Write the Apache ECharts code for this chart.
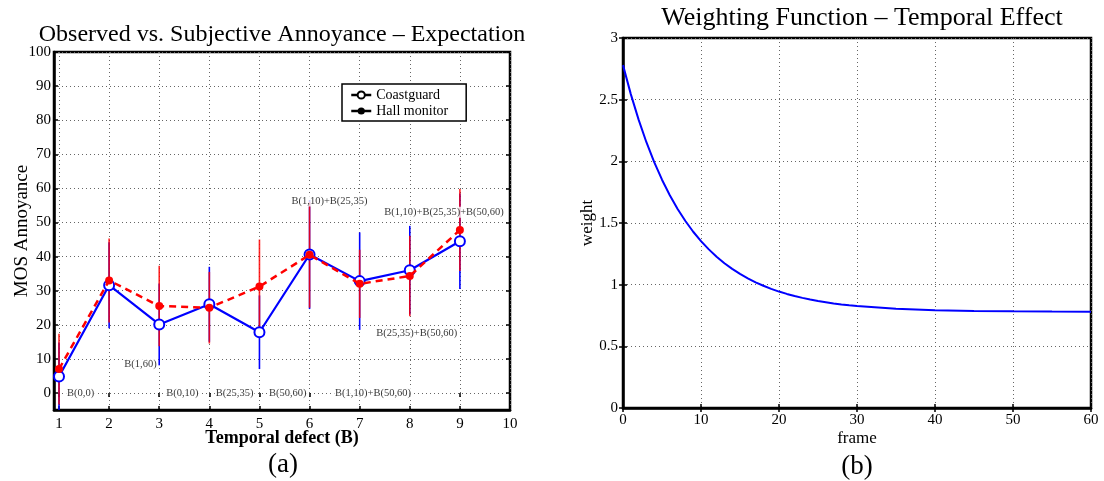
<!DOCTYPE html>
<html>
<head>
<meta charset="utf-8">
<style>
  html, body { margin: 0; padding: 0; background: #fff; }
  #chart { width: 1104px; height: 481px; }
</style>
<script src="https://cdn.jsdelivr.net/npm/echarts@6/dist/echarts.min.js"></script>
</head>
<body>
<div id="chart"></div>
<script>
// ---- Panel (a): MOS annoyance per temporal defect ----
const defects = [1, 2, 3, 4, 5, 6, 7, 8, 9];
const coastguardMean = [4.8, 31.6, 20.1, 26.0, 17.8, 40.6, 32.8, 36.0, 44.5];
const coastguardErr  = [10.0, 12.6, 12.0, 11.0, 10.8, 16.0, 14.3, 13.0, 14.0];
const hallMonitorMean = [7.0, 33.0, 25.5, 25.0, 31.2, 40.5, 32.0, 34.3, 47.8];
const hallMonitorErr  = [10.4, 12.3, 11.8, 10.5, 13.8, 15.5, 10.0, 11.8, 12.0];
const defectTicks = [1, 2, 3, 4, 5, 6, 7, 8, 9, 10];
const mosTicks = [0, 10, 20, 30, 40, 50, 60, 70, 80, 90, 100];

// defect-pattern notes: text, x, y (data units), alignment
const defectNotes = [
  ['B(0,0)', 1.14, 0, 'left'],
  ['B(1,60)', 2.97, 8.5, 'right'],
  ['B(0,10)', 3.12, 0, 'left'],
  ['B(25,35)', 4.11, 0, 'left'],
  ['B(50,60)', 5.17, 0, 'left'],
  ['B(1,10)+B(50,60)', 6.49, 0, 'left'],
  ['B(25,35)+B(50,60)', 7.31, 17.5, 'left'],
  ['B(1,10)+B(25,35)', 5.62, 56.3, 'left'],
  ['B(1,10)+B(25,35)+B(50,60)', 7.47, 53.0, 'left']
];

// ---- Panel (b): temporal weighting function ----
const frames  = [0, 1, 2, 3, 4, 5, 6, 7, 8, 9, 10, 11, 12, 13, 14, 15, 16, 17, 18, 19, 20,
                 21, 22, 23, 24, 25, 26, 27, 28, 29, 30, 35, 40, 45, 50, 55, 60];
const weights = [2.78, 2.545, 2.338, 2.155, 1.993, 1.851, 1.725, 1.614, 1.516, 1.429, 1.353,
                 1.286, 1.226, 1.174, 1.128, 1.087, 1.051, 1.019, 0.991, 0.966, 0.944,
                 0.925, 0.908, 0.893, 0.880, 0.868, 0.858, 0.848, 0.840, 0.833, 0.827,
                 0.805, 0.793, 0.787, 0.784, 0.782, 0.781];
const frameTicks = [0, 10, 20, 30, 40, 50, 60];
const weightTicks = [0, 0.5, 1, 1.5, 2, 2.5, 3];

const FONT = '"Liberation Serif", "Times New Roman", serif';
const gridLine = { show: true, lineStyle: { type: [1, 3], color: '#666', width: 1 } };
const axisLineBlack = { show: true, onZero: false, lineStyle: { color: '#000', width: 2.5 } };
const tickIn = (vals) => ({ show: true, inside: true, length: 4, lineStyle: { color: '#000', width: 1.5 }, customValues: vals });
const labelStyle = { color: '#000', fontFamily: FONT, fontSize: 15 };

// helper axes: top / right ticks without labels
const mirrorAxis = (grid, pos, min, max, vals) => ({
  type: 'value', gridIndex: grid, position: pos, min, max,
  axisLine: { show: false }, axisLabel: { show: false },
  axisTick: tickIn(vals), splitLine: { show: false }
});

const errorBar = (color, opacity) => function (params, api) {
  const x = api.value(0);
  const lo = api.coord([x, api.value(1)]);
  const hi = api.coord([x, api.value(2)]);
  return {
    type: 'line',
    shape: { x1: lo[0], y1: lo[1], x2: hi[0], y2: hi[1] },
    style: { stroke: color, lineWidth: 1.6, opacity }
  };
};

const coastBars = defects.map((d, i) => [d, coastguardMean[i] - coastguardErr[i], coastguardMean[i] + coastguardErr[i]]);
const hallBars = defects.map((d, i) => [d, hallMonitorMean[i] - hallMonitorErr[i], hallMonitorMean[i] + hallMonitorErr[i]]);

const chart = echarts.init(document.getElementById('chart'), null, { renderer: 'canvas' });
chart.setOption({
  backgroundColor: '#fff',
  animation: false,
  title: [
    { text: 'Observed vs. Subjective Annoyance \u2013 Expectation', left: 277, top: 18, textAlign: 'center',
      textStyle: { fontFamily: FONT, fontSize: 24, fontWeight: 'normal', color: '#000' } },
    { text: 'Weighting Function \u2013 Temporal Effect', left: 857, top: 0, textAlign: 'center',
      textStyle: { fontFamily: FONT, fontSize: 26, fontWeight: 'normal', color: '#000' } },
    { text: '(a)', left: 278, top: 446, textAlign: 'center',
      textStyle: { fontFamily: FONT, fontSize: 27, fontWeight: 'normal', color: '#000' } },
    { text: '(b)', left: 852, top: 448, textAlign: 'center',
      textStyle: { fontFamily: FONT, fontSize: 27, fontWeight: 'normal', color: '#000' } }
  ],
  legend: {
    left: 342, top: 84, orient: 'vertical',
    backgroundColor: '#fff', borderColor: '#000', borderWidth: 1.5, borderRadius: 0,
    padding: [4, 18, 3, 8], itemGap: 2, itemWidth: 20, itemHeight: 9,
    textStyle: { fontFamily: FONT, fontSize: 14, color: '#000' },
    data: [
      { name: 'Coastguard', itemStyle: { color: '#000', borderColor: '#000', borderWidth: 2 }, lineStyle: { color: '#000', width: 2.5, type: 'solid' } },
      { name: 'Hall monitor', itemStyle: { color: '#000', borderColor: '#000' }, lineStyle: { color: '#000', width: 2.5, type: 'solid' } }
    ]
  },
  grid: [
    { left: 54, top: 52, width: 456, height: 358, show: true, borderColor: '#000', borderWidth: 2.5, backgroundColor: 'transparent' },
    { left: 623, top: 38, width: 468, height: 370, show: true, borderColor: '#000', borderWidth: 2.5, backgroundColor: 'transparent' }
  ],
  xAxis: [
    { type: 'value', gridIndex: 0, min: 0.9, max: 10,
      name: 'Temporal defect (B)', nameLocation: 'middle', nameGap: 19, nameMoveOverlap: false,
      nameTextStyle: { fontFamily: FONT, fontSize: 18, fontWeight: 'bold', color: '#000' },
      axisLine: axisLineBlack, axisTick: tickIn(defectTicks),
      axisLabel: Object.assign({ customValues: defectTicks, margin: 7 }, labelStyle),
      splitLine: gridLine },
    mirrorAxis(0, 'top', 0.9, 10, defectTicks),
    { type: 'value', gridIndex: 1, min: 0, max: 60,
      name: 'frame', nameLocation: 'middle', nameGap: 22, nameMoveOverlap: false,
      nameTextStyle: { fontFamily: FONT, fontSize: 17, color: '#000' },
      axisLine: axisLineBlack, axisTick: tickIn(frameTicks),
      axisLabel: Object.assign({ customValues: frameTicks, margin: 5 }, labelStyle),
      splitLine: gridLine },
    mirrorAxis(1, 'top', 0, 60, frameTicks)
  ],
  yAxis: [
    { type: 'value', gridIndex: 0, min: -5, max: 100,
      name: 'MOS Annoyance', nameLocation: 'middle', nameGap: 22, nameMoveOverlap: false,
      nameTextStyle: { fontFamily: FONT, fontSize: 19, color: '#000' },
      axisLine: axisLineBlack, axisTick: tickIn(mosTicks),
      axisLabel: Object.assign({ customValues: mosTicks, margin: 3 }, labelStyle),
      splitLine: gridLine },
    mirrorAxis(0, 'right', -5, 100, mosTicks),
    { type: 'value', gridIndex: 1, min: 0, max: 3,
      name: 'weight', nameLocation: 'middle', nameGap: 27, nameMoveOverlap: false,
      nameTextStyle: { fontFamily: FONT, fontSize: 17, color: '#000' },
      axisLine: axisLineBlack, axisTick: tickIn(weightTicks),
      axisLabel: Object.assign({ customValues: weightTicks, margin: 5 }, labelStyle),
      splitLine: gridLine },
    mirrorAxis(1, 'right', 0, 3, weightTicks)
  ],
  series: [
    { type: 'custom', name: 'Coastguard bars', xAxisIndex: 0, yAxisIndex: 0, clip: true,
      renderItem: errorBar('#0000ff', 1), data: coastBars, z: 2, silent: true },
    { type: 'custom', name: 'Hall monitor bars', xAxisIndex: 0, yAxisIndex: 0, clip: true,
      renderItem: errorBar('#ff0000', 0.85), data: hallBars, z: 3, silent: true },
    { type: 'line', name: 'Coastguard', xAxisIndex: 0, yAxisIndex: 0, z: 4,
      data: defects.map((d, i) => [d, coastguardMean[i]]),
      lineStyle: { color: '#0000ff', width: 2.2 },
      symbol: 'emptyCircle', symbolSize: 10, itemStyle: { color: '#0000ff', borderColor: '#0000ff', borderWidth: 2 } },
    { type: 'line', name: 'Hall monitor', xAxisIndex: 0, yAxisIndex: 0, z: 5,
      data: defects.map((d, i) => [d, hallMonitorMean[i]]),
      lineStyle: { color: '#ff0000', width: 2.5, type: [7, 5] },
      symbol: 'circle', symbolSize: 8, itemStyle: { color: '#ff0000' } },
    { type: 'scatter', name: 'notes', xAxisIndex: 0, yAxisIndex: 0, symbolSize: 0, z: 6, silent: true,
      data: defectNotes.map(n => ({ value: [n[1], n[2]], label: { formatter: n[0], align: n[3] } })),
      label: { show: true, position: 'inside', fontFamily: FONT, fontSize: 10.5, color: '#000',
               backgroundColor: '#fff', padding: [0, 1] } },
    { type: 'line', name: 'weight', xAxisIndex: 2, yAxisIndex: 2, smooth: false, showSymbol: false,
      data: frames.map((f, i) => [f, weights[i]]),
      lineStyle: { color: '#0000ff', width: 2 } }
  ]
});
</script>
</body>
</html>
